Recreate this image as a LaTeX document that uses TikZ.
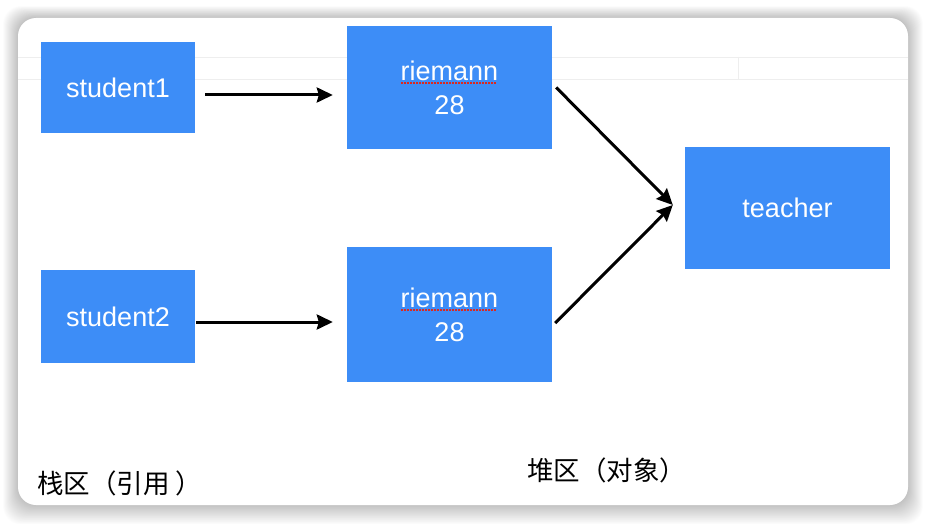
\documentclass[tikz,border=0pt]{standalone}
\usepackage{fontspec}
\setmainfont{Liberation Sans}
\newfontfamily\cjk{Noto Sans CJK SC}
\usepackage{xcolor}
\usetikzlibrary{arrows.meta,positioning}
\definecolor{blk}{RGB}{61,141,247}
\definecolor{spl}{RGB}{220,40,30}
\definecolor{grd}{RGB}{238,238,238}
% red dotted spell-check underline
\newcommand{\spellerr}[1]{\setbox0\hbox{#1}\rlap{\usebox0}\raisebox{-4pt}{\color{spl}\hbox to\wd0{\leaders\hbox to 3pt{\hss\rule{2.2pt}{2.2pt}\hss}\hfill}}}

\begin{document}
\begin{tikzpicture}[x=1pt,y=-1pt,>={Stealth[length=16pt,width=15pt,inset=2pt]},
  box/.style={fill=blk,text=white,inner sep=0pt,align=center,font=\fontsize{27}{34}\selectfont},
  ptr/.style={->,line width=3pt,black},
  tag/.style={font=\cjk\fontsize{26.5}{30}\selectfont,inner sep=0pt,anchor=west}]
\useasboundingbox (0,0) rectangle (926,524);

% ---------- panel with soft shadow ----------
\foreach \k in {1,...,30}
  \fill[black,opacity=0.006,rounded corners=18pt] (18-\k*0.5,18-\k*0.4) rectangle (908+\k*0.5,505+\k*0.65);
\fill[white,rounded corners=18pt] (18,18) rectangle (908,505);
\draw[grd,line width=0.8pt] (18,57) -- (908,57);
\draw[grd,line width=0.8pt] (18,79) -- (908,79);
\draw[grd,line width=0.8pt] (738,57) -- (738,79);

% ---------- stack: references ----------
\node[box,minimum width=154pt,minimum height=91pt] (stuA) at (118,87.5) {student1};
\node[box,minimum width=154pt,minimum height=93pt] (stuB) at (118,316.5) {student2};

% ---------- heap: objects ----------
\node[box,minimum width=205pt,minimum height=123pt] (objA) at (449.5,87.5) {\spellerr{riemann}\\28};
\node[box,minimum width=205pt,minimum height=135pt] (objB) at (449.5,314.5) {\spellerr{riemann}\\28};
\node[box,minimum width=205pt,minimum height=122pt] (tch) at (787.5,208) {teacher};

\draw[ptr] ([xshift=10pt,yshift=-7.5pt]stuA.east) -- ([xshift=-14pt,yshift=-7.5pt]objA.west);
\draw[ptr] ([xshift=1pt,yshift=-5.5pt]stuB.east) -- ([xshift=-14pt,yshift=-7.5pt]objB.west);
\draw[ptr] ([xshift=4pt]objA.east) -- ([xshift=-12pt,yshift=3pt]tch.west);
\draw[ptr] ([xshift=3pt,yshift=-8.5pt]objB.east) -- ([xshift=-12pt,yshift=3pt]tch.west);

% ---------- labels ----------
\node[tag] (stackLbl) at (37,483) {栈区（引用 ）};
\node[tag] (heapLbl) at (527,470) {堆区（对象）};
\end{tikzpicture}
\end{document}
